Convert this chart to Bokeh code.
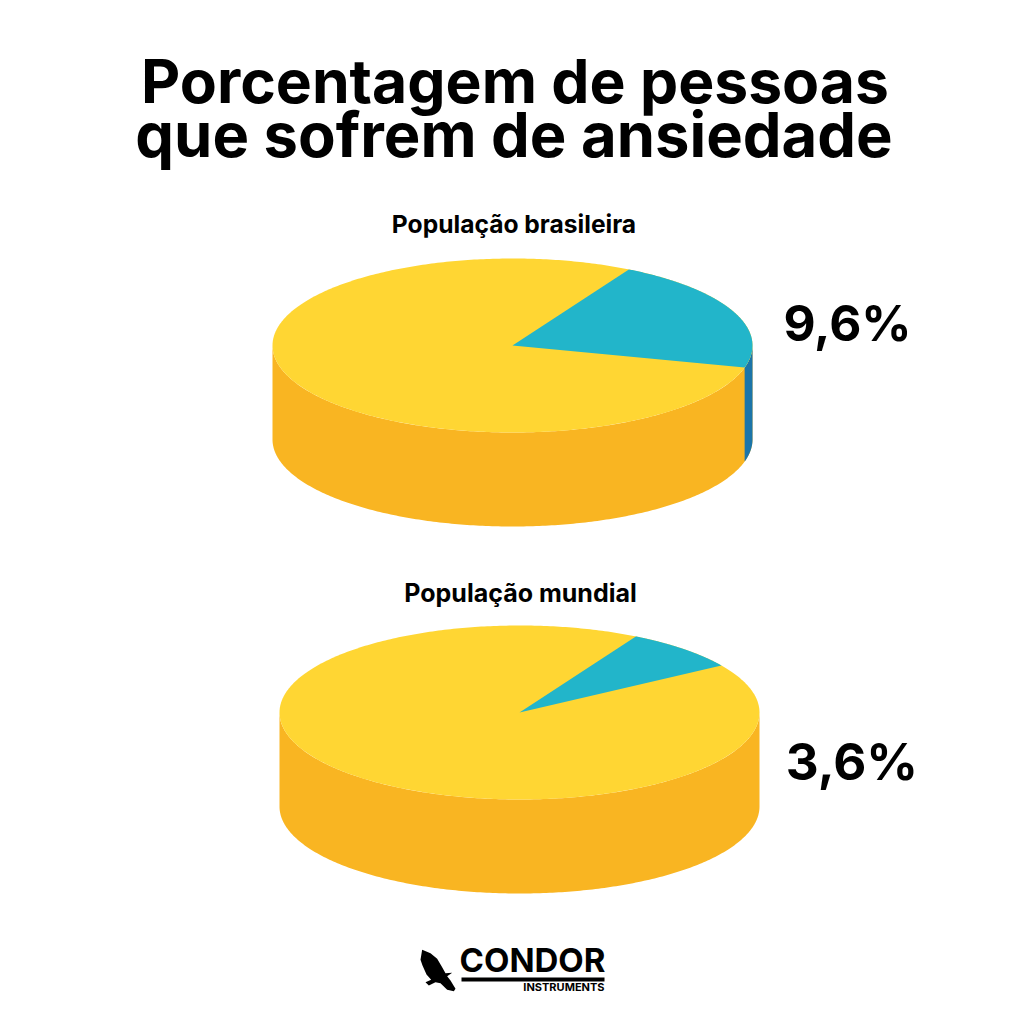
import numpy as np
from bokeh.plotting import figure
from bokeh.models import Range1d
from bokeh.core.properties import value
from bokeh.embed import file_html
from bokeh.resources import INLINE

title_lines = ["Porcentagem de pessoas", "que sofrem de ansiedade"]
categories = ["População brasileira", "População mundial"]
percent_labels = ["9,6%", "3,6%"]
slice_start_deg = [-14.7, 32.7]
slice_end_deg = [61.0, 61.0]

FONT = "Inter"
YELLOW, ORANGE, CYAN, BLUE = "#FFD633", "#F9B522", "#22B5CA", "#1B75A9"
centers = [(512, 345), (519, 712)]
RX, RY, DEPTH = 240, 87, 94
label_pos = [(513.5, 233, 24.6), (520, 602, 25)]
pct_pos = [(847, 342, 49.5), (851.5, 781, 51)]

p = figure(width=1008, height=1008, output_backend="svg", toolbar_location=None,
           x_range=Range1d(0, 1008), y_range=Range1d(1008, 0), min_border=0,
           background_fill_color="white", border_fill_color="white", outline_line_color=None)
p.axis.visible = False
p.grid.visible = False


def rim(cx, cy, a0, a1, n=240):
    t = np.radians(np.linspace(a0, a1, n))
    return cx + RX * np.cos(t), cy - RY * np.sin(t)


def txt(x, y, s, size, style="bold", align="center"):
    # the renderer draws this baseline about 0.4 em below the anchor
    p.text([x], [y - 0.4 * size], text=[s], text_font=value(FONT), text_font_size=f"{size}px",
           text_font_style=style, text_color="#000000", text_align=align, text_baseline="alphabetic")


for (cx, cy), a0, a1 in zip(centers, slice_start_deg, slice_end_deg):
    x1, y1 = rim(cx, cy, 180, 360)
    p.patch(np.r_[x1, x1[::-1]], np.r_[y1, y1[::-1] + DEPTH], color=ORANGE, line_width=0)
    if a0 < 0:
        x2, y2 = rim(cx, cy, a0, 0)
        p.patch(np.r_[x2, x2[::-1]], np.r_[y2, y2[::-1] + DEPTH], color=BLUE, line_width=0)
    x3, y3 = rim(cx, cy, 0, 360, 480)
    p.patch(x3, y3, color=YELLOW, line_width=0)
    x4, y4 = rim(cx, cy, a0, a1)
    p.patch(np.r_[cx, x4], np.r_[cy, y4], color=CYAN, line_width=0)

txt(514.5, 105, title_lines[0], 60.6)
txt(513.5, 159, title_lines[1], 61.5)
for (x, y, s_), s in zip(label_pos, categories):
    txt(x, y, s, s_)
for (x, y, s_), s in zip(pct_pos, percent_labels):
    txt(x, y, s, s_)

# logo
zx = np.array([65, 90, 110, 125, 135, 155, 140, 150, 165, 160, 140, 120, 105, 85, 75, 92, 78, 66, 60])
zy = np.array([58, 68, 85, 110, 128, 127, 137, 150, 175, 182, 178, 158, 155, 165, 155, 148, 132, 105, 88])
p.patch(400 + zx / 3, 930 + zy / 3, color="#000000", line_width=0)
txt(532, 973, "CONDOR", 33, "bold")
p.quad(left=[461], right=[604], top=[977], bottom=[981], color="#000000", line_width=0)
txt(604, 991, "INSTRUMENTS", 11, "bold", "right")

open("out.html", "w").write(file_html(p, INLINE))
